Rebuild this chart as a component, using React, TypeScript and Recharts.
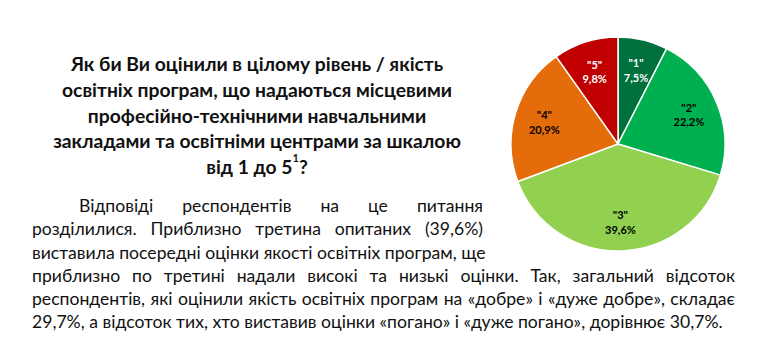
import { PieChart, Pie, Cell } from 'recharts';

const grades = ['"1"', '"2"', '"3"', '"4"', '"5"'];
const shares = [7.5, 22.2, 39.6, 20.9, 9.8];
const sliceColors = ['#00703C', '#00B050', '#92D050', '#E46C0A', '#C00000'];
const labelColors = ['#FFFFFF', '#000000', '#000000', '#000000', '#FFFFFF'];

const titleLines = [
  'Як би Ви оцінили в цілому рівень / якість',
  'освітніх програм, що надаються місцевими',
  'професійно-технічними навчальними',
  'закладами та освітніми центрами за шкалою',
];

const paragraphLines = [
  'Відповіді респондентів на це питання',
  'розділилися. Приблизно третина опитаних (39,6%)',
  'виставила посередні оцінки якості освітніх програм, ще',
  'приблизно по третині надали високі та низькі оцінки. Так, загальний відсоток',
  'респондентів, які оцінили якість освітніх програм на «добре» і «дуже добре», складає',
  '29,7%, а відсоток тих, хто виставив оцінки «погано» і «дуже погано», дорівнює 30,7%.',
];

const data = grades.map((g, i) => ({ name: g, value: shares[i] }));

const RADIAN = Math.PI / 180;
const fmt = (v: number) => v.toFixed(1).replace('.', ',') + '%';

const renderLabel = (props: any) => {
  const { cx, cy, midAngle, outerRadius, index } = props;
  const r = outerRadius * 0.72;
  const x = cx + r * Math.cos(-midAngle * RADIAN);
  const y = cy + r * Math.sin(-midAngle * RADIAN);
  return (
    <text
      x={x}
      y={y}
      textAnchor="middle"
      fill={labelColors[index]}
      fontFamily="Lato, 'Open Sans', sans-serif"
      fontWeight={700}
      fontSize={11}
    >
      <tspan x={x} dy={-2}>{grades[index]}</tspan>
      <tspan x={x} dy={14.5}>{fmt(shares[index])}</tspan>
    </text>
  );
};

const font = "Lato, 'Open Sans', sans-serif";

export default function App() {
  return (
    <div style={{ position: 'absolute', left: 0, top: 0, width: 761, height: 352, background: '#fff', overflow: 'hidden' }}>
      <div
        style={{
          position: 'absolute',
          left: 40,
          top: 51,
          width: 434,
          textAlign: 'center',
          fontFamily: font,
          fontWeight: 700,
          fontSize: 19.3,
          lineHeight: '25.8px',
          color: '#111',
          whiteSpace: 'nowrap',
        }}
      >
        {titleLines.map((l) => (
          <div key={l}>{l}</div>
        ))}
        <div>
          від 1 до 5<sup style={{ fontSize: 11, verticalAlign: 'top', lineHeight: '10px', position: 'relative', top: -1 }}>1</sup>?
        </div>
      </div>

      <div style={{ position: 'absolute', left: 32, top: 194, fontFamily: font, fontSize: 17.6, lineHeight: '23.3px', color: '#111' }}>
        {paragraphLines.map((l, i) => {
          const last = i === paragraphLines.length - 1;
          const width = i < 3 ? 451 : 703;
          return (
            <div
              key={i}
              style={{
                width: i === 0 ? width - 47 : width,
                marginLeft: i === 0 ? 47 : 0,
                textAlign: last ? 'left' : 'justify',
                textAlignLast: last ? 'left' : 'justify',
                whiteSpace: 'nowrap',
              }}
            >
              {l}
            </div>
          );
        })}
      </div>

      <div style={{ position: 'absolute', left: 488, top: 14 }}>
        <PieChart width={250} height={250}>
          <Pie
            data={data}
            dataKey="value"
            nameKey="name"
            cx={125}
            cy={125}
            outerRadius={107}
            startAngle={90}
            endAngle={-270}
            stroke="#fff"
            strokeWidth={1.5}
            label={renderLabel}
            labelLine={false}
            isAnimationActive={false}
          >
            {data.map((d, i) => (
              <Cell key={d.name} fill={sliceColors[i]} />
            ))}
          </Pie>
        </PieChart>
      </div>
    </div>
  );
}
